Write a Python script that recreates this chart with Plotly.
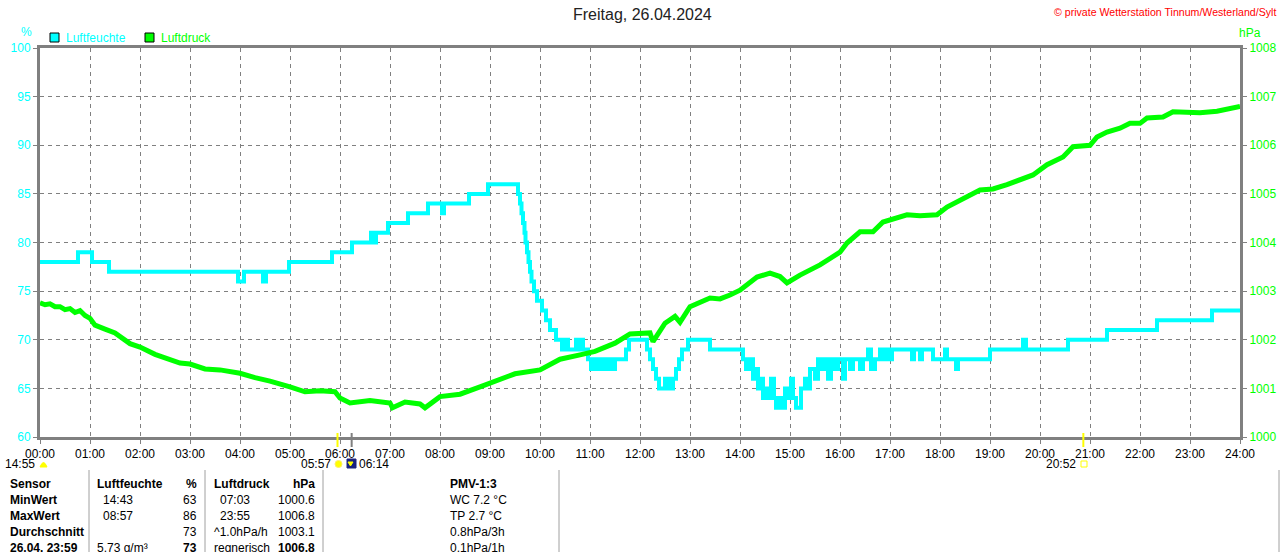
import plotly.graph_objects as go

# ---------------- data ----------------
hours = list(range(0, 25))
hour_labels = [f"{h:02d}:00" for h in hours]

hum_time = [0.0, 0.76, 1.04, 1.38, 3.96, 4.08, 4.46, 4.52, 4.98, 5.84, 6.24, 6.62, 6.68, 6.72,
            6.96, 7.36, 7.76, 8.04, 8.08, 8.58, 8.96, 9.56, 9.60, 9.63, 9.66, 9.69, 9.71, 9.74,
            9.77, 9.80, 9.83, 9.88, 9.94, 10.04, 10.12, 10.2, 10.32, 10.44, 10.52, 10.56, 10.72,
            10.74, 10.82, 10.86, 10.96, 11.02, 11.08, 11.16, 11.22, 11.3, 11.36, 11.44, 11.5,
            11.72, 11.78, 12.14, 12.2, 12.26, 12.32, 12.38, 12.5, 12.58, 12.66, 12.72, 12.78,
            12.84, 12.96, 13.4, 14.06, 14.12, 14.2, 14.26, 14.32, 14.36, 14.42, 14.46, 14.52,
            14.56, 14.62, 14.68, 14.72, 14.8, 14.86, 14.9, 14.96, 15.02, 15.06, 15.12, 15.22,
            15.3, 15.36, 15.4, 15.5, 15.56, 15.62, 15.7, 15.76, 15.82, 15.9, 15.96, 16.06, 16.1,
            16.2, 16.26, 16.4, 16.46, 16.56, 16.62, 16.7, 16.8, 16.86, 16.92, 17.0, 17.04, 17.44,
            17.48, 17.6, 17.64, 17.86, 18.1, 18.14, 18.32, 18.36, 19.0, 19.66, 19.72, 19.76,
            20.56, 21.34, 22.34, 23.44, 24.0]
hum_val = [78, 79, 78, 77, 76, 77, 76, 77, 78, 79, 80, 81, 80, 81,
           82, 83, 84, 83, 84, 85, 86, 85, 84, 83, 82, 81, 80, 79,
           78, 77, 76, 75, 74, 73, 72, 71, 70, 69, 70, 69, 70,
           69, 70, 69, 68, 67, 68, 67, 68, 67, 68, 67, 68,
           69, 70, 69, 68, 67, 66, 65, 66, 65, 66, 67, 68,
           69, 70, 69, 68, 67, 68, 66, 67, 65, 66, 64, 65,
           64, 66, 64, 63, 64, 63, 65, 64, 66, 64, 63, 65,
           66, 65, 67, 66, 68, 67, 68, 66, 68, 67, 68, 66, 68,
           67, 68, 67, 68, 69, 67, 68, 69, 68, 69, 68, 69, 68,
           69, 68, 69, 68, 69, 68, 67, 68, 69, 70, 69, 69,
           70, 71, 72, 73, 73]

press_time = [0.0, 0.1, 0.2, 0.3, 0.4, 0.5, 0.6, 0.7, 0.8, 0.9, 1.0, 1.1, 1.3, 1.5, 1.8, 2.0, 2.3,
              2.5, 2.8, 3.0, 3.3, 3.6, 4.0, 4.3, 4.6, 5.0, 5.3, 5.6, 5.9, 6.0, 6.2, 6.6, 7.0, 7.05,
              7.3, 7.6, 7.7, 8.0, 8.4, 8.8, 9.2, 9.5, 10.0, 10.4, 10.8, 11.1, 11.5, 11.8, 12.2,
              12.26, 12.5, 12.7, 12.8, 13.0, 13.4, 13.6, 13.8, 14.0, 14.34, 14.6, 14.8, 14.94,
              15.2, 15.6, 16.0, 16.14, 16.4, 16.66, 16.86, 17.34, 17.6, 17.94, 18.14, 18.54,
              18.8, 19.06, 19.34, 19.86, 20.14, 20.46, 20.66, 21.0, 21.14, 21.34, 21.6, 21.8,
              22.0, 22.14, 22.46, 22.66, 23.2, 23.54, 23.94, 24.0]
press_val = [1002.76, 1002.72, 1002.74, 1002.68, 1002.68, 1002.62, 1002.64, 1002.56, 1002.6,
             1002.5, 1002.44, 1002.3, 1002.22, 1002.14, 1001.92, 1001.85, 1001.7, 1001.62,
             1001.52, 1001.5, 1001.4, 1001.38, 1001.31, 1001.22, 1001.15, 1001.03, 1000.93,
             1000.95, 1000.93, 1000.8, 1000.7, 1000.75, 1000.7, 1000.6, 1000.72, 1000.68,
             1000.6, 1000.83, 1000.88, 1001.03, 1001.2, 1001.3, 1001.38, 1001.6, 1001.69,
             1001.76, 1001.93, 1002.12, 1002.14, 1001.96, 1002.34, 1002.48, 1002.36, 1002.68,
             1002.86, 1002.84, 1002.92, 1003.02, 1003.29, 1003.37, 1003.3, 1003.17, 1003.33,
             1003.54, 1003.8, 1003.99, 1004.22, 1004.22, 1004.42, 1004.57, 1004.55, 1004.57,
             1004.73, 1004.94, 1005.08, 1005.1, 1005.19, 1005.39, 1005.6, 1005.76, 1005.97,
             1006.0, 1006.17, 1006.27, 1006.35, 1006.45, 1006.45, 1006.56, 1006.58, 1006.69,
             1006.67, 1006.7, 1006.77, 1006.8]

sunrise_h, sunset_h, moon_h = 5.95, 20.8667, 6.2333

table_rows = ["Sensor", "MinWert", "MaxWert", "Durchschnitt", "26.04. 23:59"]
hum_col_a = ["Luftfeuchte", "14:43", "08:57", "", "5.73 g/m³"]
hum_col_b = ["%", "63", "86", "73", "73"]
press_col_a = ["Luftdruck", "07:03", "23:55", "^1.0hPa/h", "regnerisch"]
press_col_b = ["hPa", "1000.6", "1006.8", "1003.1", "1006.8"]
pmv_col = ["PMV-1:3", "WC 7.2 °C", "TP 2.7 °C", "0.8hPa/3h", "0.1hPa/1h"]

# ---------------- layout helpers ----------------
L, R, T, B = 40, 1240, 48, 437
W, H = 1280, 552
FONT = "Liberation Sans, Arial, sans-serif"
CYAN, GREEN, GRAY = "#00FFFF", "#00FF00", "#808080"


def px(x):
    return (x - L) / (R - L)


def py(y):
    return (B - y) / (B - T)


fig = go.Figure()
fig.add_trace(go.Scatter(x=hum_time, y=hum_val, mode="lines", line=dict(color=CYAN, width=4, shape="hv"),
                         name="Luftfeuchte", yaxis="y"))
fig.add_trace(go.Scatter(x=press_time, y=press_val, mode="lines", line=dict(color=GREEN, width=5),
                         name="Luftdruck", yaxis="y2"))

annotations = []
shapes = []


def text(x, y, s, color="black", size=12, anchor="left"):
    annotations.append(dict(x=px(x), y=py(y), xref="paper", yref="paper", text=s, showarrow=False,
                            xanchor=anchor, yanchor="middle", font=dict(family=FONT, size=size, color=color)))


# title and header texts
text(642, 15, "Freitag, 26.04.2024", color="#222222", size=16, anchor="center")
text(1278, 12, "© private Wetterstation Tinnum/Westerland/Sylt", color="#FF0000", size=10.6, anchor="right")
text(26, 32, "%", color=CYAN, size=12, anchor="center")
text(1250, 33, "hPa", color=GREEN, size=12, anchor="center")

# legend
shapes.append(dict(type="rect", xref="paper", yref="paper", x0=px(50), x1=px(59), y0=py(33), y1=py(42),
                   fillcolor=CYAN, line=dict(color="black", width=1)))
text(64, 38, "Luftfeuchte", color=CYAN, size=12)
shapes.append(dict(type="rect", xref="paper", yref="paper", x0=px(145), x1=px(154), y0=py(33), y1=py(42),
                   fillcolor=GREEN, line=dict(color="black", width=1)))
text(159, 38, "Luftdruck", color=GREEN, size=12)

# sun / moon markers
for h, col in [(sunrise_h, "#FFFF00"), (sunset_h, "#FFFF00"), (moon_h, GRAY)]:
    shapes.append(dict(type="line", xref="x", yref="paper", x0=h, x1=h, y0=py(433), y1=py(447),
                       line=dict(color=col, width=2)))
text(37, 464, "14:55", anchor="right")
shapes.append(dict(type="path", xref="paper", yref="paper",
                   path=f"M {px(40)},{py(467)} Q {px(43.5)},{py(458)} {px(47)},{py(467)} Z",
                   fillcolor="#FFFF00", line=dict(color="#FFFF00", width=1)))
text(333, 464, "05:57", anchor="right")
shapes.append(dict(type="circle", xref="paper", yref="paper", x0=px(335), x1=px(342), y0=py(460.5), y1=py(467.5),
                   fillcolor="#FFFF00", line=dict(color="#FFEE66", width=1)))
shapes.append(dict(type="rect", xref="paper", yref="paper", x0=px(347), x1=px(356), y0=py(459), y1=py(468),
                   fillcolor="#1A237E", line=dict(color="#1A237E", width=1)))
shapes.append(dict(type="path", xref="paper", yref="paper",
                   path=f"M {px(348)},{py(462)} L {px(353)},{py(462)} L {px(350.5)},{py(466)} Z",
                   fillcolor="#FFFF00", line=dict(color="#FFFF00", width=1)))
text(357, 464, "06:14")
text(1078, 464, "20:52", anchor="right")
shapes.append(dict(type="rect", xref="paper", yref="paper", x0=px(1081), x1=px(1087), y0=py(461), y1=py(467),
                   fillcolor="white", line=dict(color="#FFFF00", width=1)))

# table separators
for xv in [89, 205, 323, 559, 1279]:
    shapes.append(dict(type="line", xref="paper", yref="paper", x0=px(xv), x1=px(xv), y0=py(470), y1=py(552),
                       line=dict(color="#A0A0A0", width=1)))

row_y = [484, 500, 516, 532, 548]
for i, yv in enumerate(row_y):
    bold_row = (i == 0)
    text(8, yv, f"<b>{table_rows[i]}</b>")
    a = hum_col_a[i]
    if a:
        text(95 if i in (0, 4) else 101, yv, f"<b>{a}</b>" if bold_row else a)
    b = hum_col_b[i]
    text(199, yv, f"<b>{b}</b>" if (bold_row or i == 4) else b, anchor="right")
    c = press_col_a[i]
    text(212 if i in (0, 3, 4) else 218, yv, f"<b>{c}</b>" if bold_row else c)
    d = press_col_b[i]
    text(317, yv, f"<b>{d}</b>" if (bold_row or i == 4) else d, anchor="right")
    e = pmv_col[i]
    text(448, yv, f"<b>{e}</b>" if bold_row else e)

fig.update_layout(
    width=W, height=H,
    margin=dict(l=L, r=W - R, t=T, b=H - B),
    paper_bgcolor="white", plot_bgcolor="white",
    showlegend=False,
    font=dict(family=FONT, size=12, color="black"),
    xaxis=dict(range=[0, 24], tickvals=hours, ticktext=hour_labels, showgrid=True, gridcolor=GRAY,
               griddash="4px,4px", gridwidth=1, zeroline=False, showline=True, linecolor=GRAY, linewidth=3,
               mirror=True, ticks="outside", ticklen=4, tickcolor=GRAY, automargin=False,
               tickfont=dict(family=FONT, size=12, color="black")),
    yaxis=dict(range=[60, 100], dtick=5, showgrid=True, gridcolor=GRAY, griddash="4px,4px", gridwidth=1,
               zeroline=False, showline=True, linecolor=GRAY, linewidth=3, ticks="outside", ticklen=4,
               tickcolor=GRAY, automargin=False, tickfont=dict(family=FONT, size=12, color=CYAN)),
    yaxis2=dict(range=[1000, 1008], dtick=1, overlaying="y", side="right", showgrid=False, zeroline=False,
                showline=True, linecolor=GRAY, linewidth=3, ticks="outside", ticklen=4, tickcolor=GRAY,
                automargin=False, tickfont=dict(family=FONT, size=12, color=GREEN)),
    annotations=annotations,
    shapes=shapes,
)

fig.write_html("out.html", config={"displayModeBar": False},
               post_script="document.body.style.margin='0';document.body.style.padding='0';")
